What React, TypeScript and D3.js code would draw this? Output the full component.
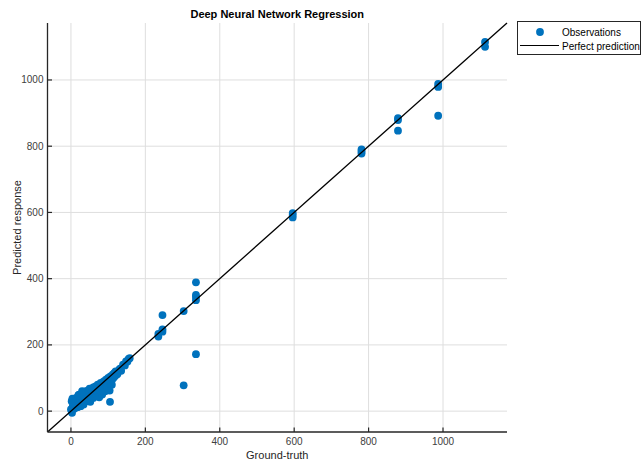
import React from "react";
import * as d3 from "d3";

const title = "Deep Neural Network Regression";
const xLabel = "Ground-truth";
const yLabel = "Predicted response";
const xTicks = [0, 200, 400, 600, 800, 1000];
const yTicks = [0, 200, 400, 600, 800, 1000];
const domain: [number, number] = [-63, 1172];

// Ground-truth values
const obsX = [
  0, 2, 3, 5, 6, 8, 10, 12, 14, 15, 18, 20, 22, 24, 26, 28, 30, 32, 34, 36, 38, 40, 42, 44, 46, 48, 50, 52,
  54, 56, 58, 60, 62, 64, 66, 68, 70, 72, 74, 76, 78, 80, 82, 84, 86, 88, 90, 92, 94, 96, 98, 100, 102, 104,
  105, 106, 108, 110, 112, 114, 116, 118, 120, 122, 125, 130, 132, 140, 145, 148, 152, 155, 158,
  4, 20, 30, 50, 60, 80, 110, 125, 135,
  235, 235, 246, 246, 246, 303, 303, 336, 336, 336, 336, 336,
  596, 596, 596, 781, 781, 781, 879, 879, 879, 987, 987, 987, 1113, 1113,
];
// Predicted values
const obsY = [
  5, 30, -5, 15, 35, 22, 8, 28, 40, 18, 12, 32, 50, 25, 15, 45, 55, 30, 20, 52, 40, 60, 30, 48, 62, 38, 55, 28,
  45, 65, 50, 40, 70, 55, 75, 48, 62, 80, 58, 42, 70, 85, 65, 50, 78, 90, 72, 60, 95, 85, 70, 100, 90, 62,
  28, 105, 85, 95, 110, 100, 115, 105, 120, 110, 118, 125, 128, 140, 138, 150, 150, 158, 160,
  38, 48, 60, 68, 72, 62, 80, 112, 122,
  233, 225, 290, 247, 240, 302, 78, 389, 351, 345, 335, 172,
  598, 592, 585, 790, 784, 778, 885, 879, 847, 988, 979, 892, 1115, 1100,
];

const W = 643;
const H = 460;
const left = 47.5;
const right = 507;
const top = 23;
const bottom = 432;
const font = "Arial, 'Liberation Sans', Helvetica, sans-serif";
const blue = "#0072BD";
const axisColor = "#262626";

export default function App() {
  const x = d3.scaleLinear().domain(domain).range([left, right]);
  const y = d3.scaleLinear().domain(domain).range([bottom, top]);
  const pts = obsX.map((v, i) => [v, obsY[i]]);
  const line = d3.line<number>().x((d) => x(d)).y((d) => y(d));

  return (
    <svg width={W} height={H} style={{ position: "absolute", left: 0, top: 0, background: "#fff" }} fontFamily={font}>
      <rect x={0} y={0} width={W} height={H} fill="#fff" />
      {/* grid */}
      {xTicks.map((t) => (
        <line key={"gx" + t} x1={x(t)} x2={x(t)} y1={top} y2={bottom} stroke="#dedede" strokeWidth={1} />
      ))}
      {yTicks.map((t) => (
        <line key={"gy" + t} x1={left} x2={right} y1={y(t)} y2={y(t)} stroke="#dedede" strokeWidth={1} />
      ))}
      {/* points */}
      {pts.map((p, i) => (
        <circle key={i} cx={x(p[0])} cy={y(p[1])} r={3.9} fill={blue} />
      ))}
      {/* perfect prediction line */}
      <path d={line(domain) || ""} stroke="#000" strokeWidth={1.3} fill="none" />
      {/* axes */}
      <line x1={left} x2={right} y1={bottom} y2={bottom} stroke={axisColor} strokeWidth={1.3} />
      <line x1={left} x2={left} y1={top} y2={bottom} stroke={axisColor} strokeWidth={1.3} />
      {xTicks.map((t) => (
        <g key={"xt" + t}>
          <line x1={x(t)} x2={x(t)} y1={bottom} y2={bottom - 4.5} stroke={axisColor} strokeWidth={1.2} />
          <text x={x(t)} y={bottom + 13} textAnchor="middle" fontSize={10} fill="#404040">
            {t}
          </text>
        </g>
      ))}
      {yTicks.map((t) => (
        <g key={"yt" + t}>
          <line x1={left} x2={left + 4.5} y1={y(t)} y2={y(t)} stroke={axisColor} strokeWidth={1.2} />
          <text x={left - 4} y={y(t) + 3.5} textAnchor="end" fontSize={10} fill="#404040">
            {t}
          </text>
        </g>
      ))}
      {/* labels */}
      <text x={(left + right) / 2} y={18} textAnchor="middle" fontSize={11} fontWeight="bold" fill="#000">
        {title}
      </text>
      <text x={(left + right) / 2} y={459} textAnchor="middle" fontSize={11} fill="#262626">
        {xLabel}
      </text>
      <text
        transform={`translate(21, ${(top + bottom) / 2}) rotate(-90)`}
        textAnchor="middle"
        fontSize={11}
        fill="#262626"
      >
        {yLabel}
      </text>
      {/* legend */}
      <rect x={517.5} y={21.5} width={123} height={33} fill="#fff" stroke="#262626" strokeWidth={1} />
      <circle cx={540} cy={32} r={3.9} fill={blue} />
      <line x1={520} x2={559} y1={45.5} y2={45.5} stroke="#000" strokeWidth={1.2} />
      <text x={562} y={35.5} fontSize={10} fill="#000">
        Observations
      </text>
      <text x={562} y={49.5} fontSize={10} fill="#000">
        Perfect prediction
      </text>
    </svg>
  );
}
